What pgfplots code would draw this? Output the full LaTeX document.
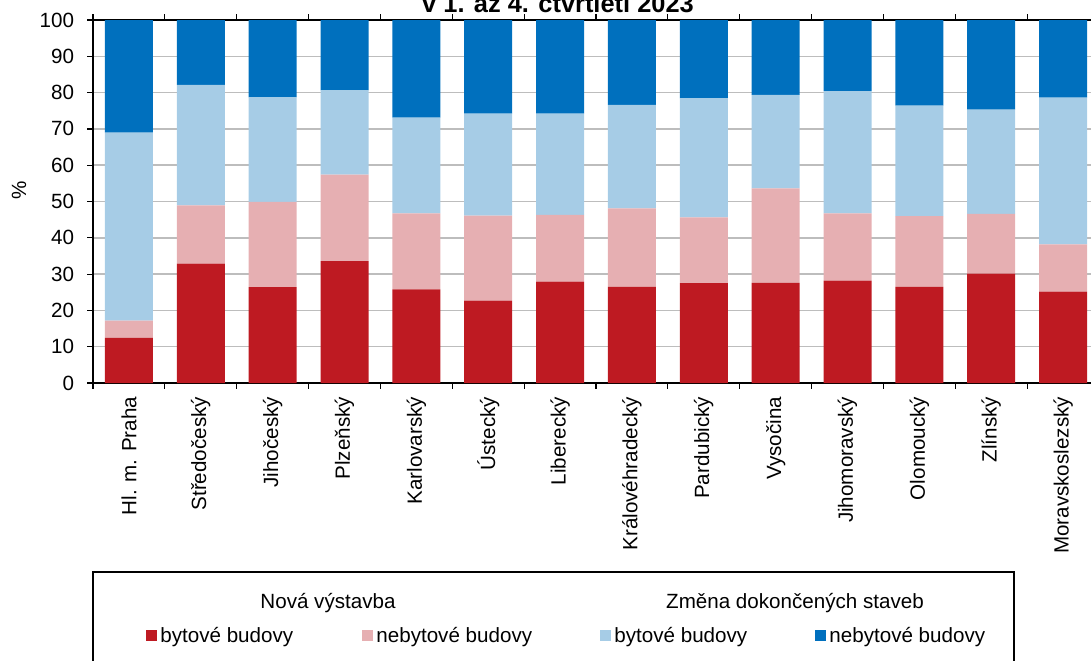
\documentclass[border=0pt]{standalone}
\usepackage{fontspec}
\setmainfont{Liberation Sans}
\usepackage{pgfplots}
\pgfplotsset{compat=1.18}

\definecolor{cred}{HTML}{BE1A22}
\definecolor{cpink}{HTML}{E6AFB2}
\definecolor{clight}{HTML}{A6CCE6}
\definecolor{cdark}{HTML}{0070BE}
\definecolor{gridgray}{HTML}{BDBDBD}

\begin{document}
\begin{tikzpicture}[font=\fontsize{10.3}{12}\selectfont]
\begin{axis}[
    at={(46.5pt,138.5pt)}, anchor=south west,
    scale only axis,
    width=503pt, height=181.5pt,
    ybar stacked,
    bar width=24pt,
    xmin=-0.5, xmax=13.5,
    ymin=0, ymax=100,
    xtick={-0.5,0.5,...,13.5},
    x tick label as interval,
    xticklabels={Hl. m. Praha,Středočeský,Jihočeský,Plzeňský,Karlovarský,Ústecký,Liberecký,Královéhradecký,Pardubický,Vysočina,Jihomoravský,Olomoucký,Zlínský,Moravskoslezský},
    xticklabel style={rotate=90, anchor=east, inner sep=0pt, xshift=-4pt},
    ytick={0,10,...,100},
    yticklabel style={anchor=east, inner sep=0pt, xshift=-6.5pt},
    major tick length=2.8pt,
    tick align=outside,
    tick style={black, line width=0.6pt},
    ymajorgrids,
    grid style={line width=0.75pt, color=gridgray},
    axis line style={line width=0.8pt},
    /pgf/number format/assume math mode=true,
    ylabel={\%},
    ylabel style={at={(rel axis cs:-0.0736,0.532)}, anchor=center},
]
% Nová výstavba - bytové budovy
\addplot[fill=cred, draw=none] coordinates {
(0,12.4) (1,32.9) (2,26.4) (3,33.6) (4,25.8) (5,22.7) (6,27.9)
(7,26.5) (8,27.5) (9,27.6) (10,28.2) (11,26.5) (12,30.1) (13,25.2)};
% Nová výstavba - nebytové budovy
\addplot[fill=cpink, draw=none] coordinates {
(0,4.8) (1,16.0) (2,23.5) (3,23.8) (4,20.9) (5,23.4) (6,18.4)
(7,21.6) (8,18.1) (9,26.0) (10,18.5) (11,19.5) (12,16.5) (13,13.0)};
% Změna dokončených staveb - bytové budovy
\addplot[fill=clight, draw=none] coordinates {
(0,51.8) (1,33.2) (2,28.8) (3,23.2) (4,26.4) (5,28.1) (6,27.9)
(7,28.5) (8,32.8) (9,25.8) (10,33.7) (11,30.4) (12,28.7) (13,40.4)};
% Změna dokončených staveb - nebytové budovy
\addplot[fill=cdark, draw=none] coordinates {
(0,31.0) (1,17.9) (2,21.3) (3,19.4) (4,26.9) (5,25.8) (6,25.8)
(7,23.4) (8,21.6) (9,20.6) (10,19.6) (11,23.6) (12,24.7) (13,21.4)};
\end{axis}

% title and legend, in pixels from the top left corner
\begin{scope}[x=0.5pt, y=-0.5pt, shift={(0,330pt)}]
\node[font=\fontsize{12.7}{14}\selectfont\bfseries, anchor=base, inner sep=0pt]
  at (558,13) {v 1. až 4. čtvrtletí 2023};
\draw[line width=0.6pt] (93,700) -- (93,572) -- (1014,572) -- (1014,700);
\node[anchor=base, inner sep=0pt] at (328,608) {Nová výstavba};
\node[anchor=base, inner sep=0pt] at (795,608) {Změna dokončených staveb};
\fill[cred]   (146,630) rectangle (157,641);
\fill[cpink]  (362,630) rectangle (373,641);
\fill[clight] (600,630) rectangle (611,641);
\fill[cdark]  (815,630) rectangle (826,641);
\node[anchor=base west, inner sep=0pt] at (160,642) {bytové budovy};
\node[anchor=base west, inner sep=0pt] at (376,642) {nebytové budovy};
\node[anchor=base west, inner sep=0pt] at (614,642) {bytové budovy};
\node[anchor=base west, inner sep=0pt] at (829,642) {nebytové budovy};
\end{scope}

\pgfresetboundingbox
\useasboundingbox (0,0) rectangle (545.5pt,330pt);
\end{tikzpicture}
\end{document}
